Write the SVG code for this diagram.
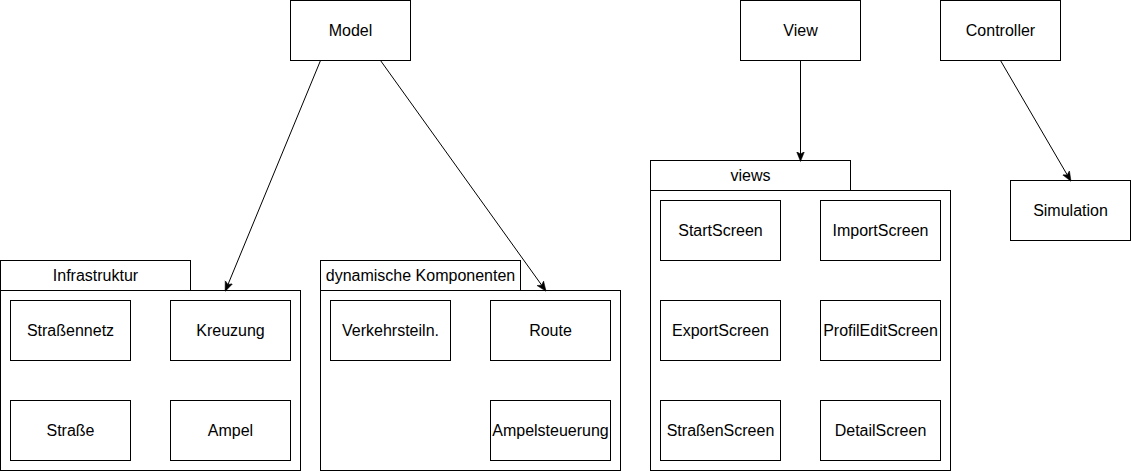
<svg xmlns="http://www.w3.org/2000/svg" width="1131" height="471" viewBox="0 0 1131 471">
<style>
rect{fill:#fff;stroke:#000;stroke-width:1}
text{font-family:"Liberation Sans",Arial,sans-serif;font-size:16px;fill:#000;text-anchor:middle;dominant-baseline:central}
.edge{stroke:#000;stroke-width:1;fill:none;marker-end:url(#arr)}
</style>
<defs>
<marker id="arr" viewBox="0 0 10 10" refX="9" refY="5" markerWidth="10" markerHeight="10" markerUnits="userSpaceOnUse" orient="auto">
<path d="M0,1 L10,5 L0,9 L2.5,5 Z" fill="#000" stroke="#000" stroke-width="0.5"/>
</marker>
</defs>
<rect x="0" y="0" width="1131" height="471" style="fill:#fff;stroke:none"/>

<g id="model"><rect x="290.5" y="0.5" width="120" height="60"/><text x="350.5" y="30.5">Model</text></g>
<g id="view"><rect x="740.5" y="0.5" width="120" height="60"/><text x="800.5" y="30.5">View</text></g>
<g id="controller"><rect x="940.5" y="0.5" width="120" height="60"/><text x="1000.5" y="30.5">Controller</text></g>

<g id="infrastruktur">
<rect x="0.5" y="260.5" width="190" height="30"/><text x="95.5" y="275.5">Infrastruktur</text>
<rect x="0.5" y="290.5" width="300" height="180"/>
</g>
<g id="strassennetz"><rect x="10.5" y="300.5" width="120" height="60"/><text x="70.5" y="330.5">Straßennetz</text></g>
<g id="kreuzung"><rect x="170.5" y="300.5" width="120" height="60"/><text x="230.5" y="330.5">Kreuzung</text></g>
<g id="strasse"><rect x="10.5" y="400.5" width="120" height="60"/><text x="70.5" y="430.5">Straße</text></g>
<g id="ampel"><rect x="170.5" y="400.5" width="120" height="60"/><text x="230.5" y="430.5">Ampel</text></g>

<g id="dynamische">
<rect x="320.5" y="260.5" width="200" height="30"/><text x="420.5" y="275.5">dynamische Komponenten</text>
<rect x="320.5" y="290.5" width="300" height="180"/>
</g>
<g id="verkehrsteiln"><rect x="330.5" y="300.5" width="120" height="60"/><text x="390.5" y="330.5">Verkehrsteiln.</text></g>
<g id="route"><rect x="490.5" y="300.5" width="120" height="60"/><text x="550.5" y="330.5">Route</text></g>
<g id="ampelsteuerung"><rect x="490.5" y="400.5" width="120" height="60"/><text x="550.5" y="430.5">Ampelsteuerung</text></g>

<g id="views">
<rect x="650.5" y="160.5" width="200" height="30"/><text x="750.5" y="175.5">views</text>
<rect x="650.5" y="190.5" width="300" height="280"/>
</g>
<g id="startscreen"><rect x="660.5" y="200.5" width="120" height="60"/><text x="720.5" y="230.5">StartScreen</text></g>
<g id="importscreen"><rect x="820.5" y="200.5" width="120" height="60"/><text x="880.5" y="230.5">ImportScreen</text></g>
<g id="exportscreen"><rect x="660.5" y="300.5" width="120" height="60"/><text x="720.5" y="330.5">ExportScreen</text></g>
<g id="profileditscreen"><rect x="820.5" y="300.5" width="120" height="60"/><text x="880.5" y="330.5">ProfilEditScreen</text></g>
<g id="strassenscreen"><rect x="660.5" y="400.5" width="120" height="60"/><text x="720.5" y="430.5">StraßenScreen</text></g>
<g id="detailscreen"><rect x="820.5" y="400.5" width="120" height="60"/><text x="880.5" y="430.5">DetailScreen</text></g>

<g id="simulation"><rect x="1010.5" y="180.5" width="120" height="60"/><text x="1070.5" y="210.5">Simulation</text></g>

<g id="connectors">
<line class="edge" x1="320.5" y1="60.5" x2="225.5" y2="290.5"/>
<line class="edge" x1="380.5" y1="60.5" x2="545.5" y2="290.5"/>
<line class="edge" x1="800.5" y1="60.5" x2="800.5" y2="160.5"/>
<line class="edge" x1="1000.5" y1="60.5" x2="1070.5" y2="180.5"/>
</g>
</svg>
